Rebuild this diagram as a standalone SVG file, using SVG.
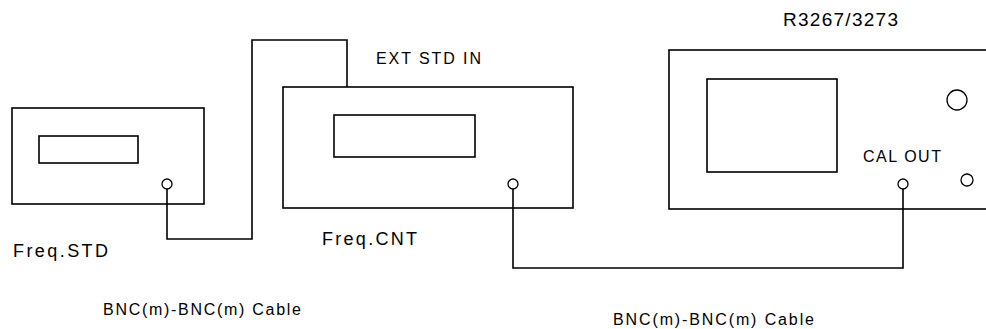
<svg xmlns="http://www.w3.org/2000/svg" width="986" height="329" viewBox="0 0 986 329">
<style>
.box{fill:none;stroke:#000;stroke-width:1.6}
.port{fill:#fff;stroke:#000;stroke-width:1.3}
.wire{fill:none;stroke:#000;stroke-width:1.6}
text{font-family:"Liberation Sans",Arial,sans-serif;fill:#000}
.cable{font-size:16px}
</style>
<rect width="986" height="329" fill="#fff"/>
<g id="connectors">
<path class="wire" d="M167,189 V239 H252 V40 H347 V87"/>
<path class="wire" d="M513,189 V268 H903 V189"/>
</g>
<g id="freq-std">
<rect class="box" x="12" y="108" width="192" height="96"/>
<rect class="box" x="39" y="136" width="99" height="27"/>
<circle class="port" cx="167" cy="184" r="5"/>
<text x="13" y="257" font-size="18" textLength="95" lengthAdjust="spacing">Freq.STD</text>
</g>
<g id="freq-cnt">
<rect class="box" x="283" y="87" width="290" height="121"/>
<rect class="box" x="334" y="115" width="141" height="42"/>
<circle class="port" cx="513" cy="184" r="5"/>
<text x="376" y="64" font-size="16" textLength="105" lengthAdjust="spacing">EXT STD IN</text>
<text x="322" y="245" font-size="18" textLength="95" lengthAdjust="spacing">Freq.CNT</text>
</g>
<g id="r3267">
<rect class="box" x="669" y="50" width="330" height="159"/>
<rect class="box" x="707" y="79" width="130" height="93"/>
<circle class="port" cx="957" cy="100" r="10"/>
<circle class="port" cx="967" cy="180" r="6"/>
<circle class="port" cx="903" cy="184" r="5"/>
<text x="783" y="26" font-size="19" textLength="115" lengthAdjust="spacing">R3267/3273</text>
<text x="863" y="162" font-size="16" textLength="78" lengthAdjust="spacing">CAL OUT</text>
</g>
<g id="labels">
<text class="cable" x="103" y="315" textLength="198" lengthAdjust="spacing">BNC(m)-BNC(m) Cable</text>
<text class="cable" x="613" y="325" textLength="201" lengthAdjust="spacing">BNC(m)-BNC(m) Cable</text>
</g>
</svg>
